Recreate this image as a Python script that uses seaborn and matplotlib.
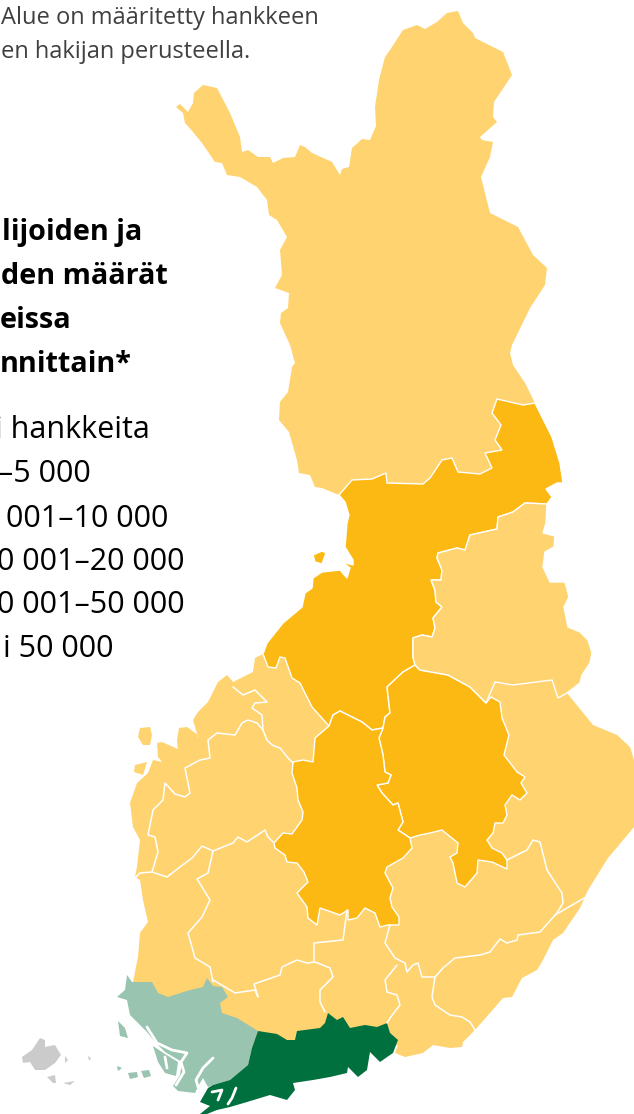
"""Kartta: hankkeet maakunnittain (pikselikoordinaatit luettu kuvasta)."""

import matplotlib
matplotlib.use("Agg")
import matplotlib.pyplot as plt
import seaborn as sns

# colours per class
LIGHT, ORANGE, PALE_GREEN, DARK_GREEN, GREY = "#FED370", "#FDB913", "#99C4B0", "#00703F", "#CBCBCB"

note_lines = ["Alue on määritetty hankkeen", "en hakijan perusteella."]
note_x = [1, 1]
note_y = [24, 58]
title_lines = ["lijoiden ja", "den määrät", "eissa", "nnittain*"]
title_x = [2, 1, 0, 0]
title_y = [240, 284, 328, 372]
legend_lines = ["i hankkeita", "–5 000", "001–10 000", "0 001–20 000", "0 001–50 000", "i 50 000"]
legend_x = [-5, -2, 6, -3, -3, 3]
legend_y = [438, 482, 527, 570, 613, 657]

lappi = [(176,107),(180,104),(188,112),(193,103),(194,93),(203,85),(217,88),(230,113),(240,137),(242,152),
    (248,150),(258,157),(270,157),(273,163),(283,158),(295,157),(300,145),(305,147),(312,153),(332,162),
    (340,175),(342,169),(349,167),(352,148),(362,139),(370,140),(376,126),(375,107),(379,80),(385,57),
    (390,50),(403,30),(417,25),(425,29),(437,22),(447,13),(458,11),(463,23),(473,33),(475,38),(503,52),
    (512,75),(494,102),(493,117),(497,122),(480,137),(482,140),(493,142),(490,157),(481,177),(490,213),
    (518,227),(533,255),(547,268),(545,285),(530,308),(512,345),(510,353),(513,365),(525,383),(535,403),
    (523,405),(497,399),(492,413),(501,425),(495,440),(502,450),(485,453),(492,468),(480,474),(458,472),
    (452,458),(442,460),(430,478),(423,484),(387,483),(386,473),(372,479),(352,480),(339,495),(322,488),
    (315,487),(310,475),(299,473),(297,460),(289,432),(279,420),(280,402),(288,392),(292,367),(295,363),
    (290,345),(280,323),(281,313),(288,308),(289,293),(275,288),(282,275),(280,250),(287,237),(277,220),
    (269,215),(267,200),(257,187),(240,177),(227,175),(222,163),(215,162),(202,143),(193,132),(185,123),(183,113)]

pohjois = [(535,403),(552,437),(560,463),(563,483),(557,483),(546,489),(552,497),(547,504),(525,503),(513,512),
    (498,517),(497,529),(470,535),(465,550),(457,548),(438,553),(437,558),(442,570),(441,580),(431,580),
    (435,590),(436,602),(442,607),(433,618),(435,628),(432,637),(422,635),(413,638),(413,657),(415,665),
    (403,672),(387,687),(390,713),(385,717),(383,728),(372,730),(362,722),(340,711),(333,715),(329,726),
    (312,707),(300,683),(292,678),(285,658),(280,657),(276,668),(268,667),(263,654),(267,643),(283,623),
    (302,607),(305,593),(312,588),(313,578),(322,572),(340,570),(347,578),(350,568),(342,562),(353,565),
    (353,560),(345,547),(347,523),(349,515),(345,502),(339,495),(352,480),(372,479),(386,473),(387,483),
    (423,484),(430,478),(442,460),(452,458),(458,472),(480,474),(492,468),(485,453),(502,450),(495,440),
    (501,425),(492,413),(497,399),(523,405)]
saari = [(313,555),(322,551),(326,553),(322,564),(315,562)]

kainuu = [(547,504),(546,523),(543,533),(555,536),(554,547),(545,552),(543,567),(550,582),(565,582),(569,597),
    (564,607),(568,627),(580,632),(588,640),(592,653),(590,663),(582,675),(580,683),(567,693),(558,698),
    (552,680),(513,685),(495,682),(486,703),(470,687),(448,675),(420,670),(415,665),(413,657),(413,638),
    (422,635),(432,637),(435,628),(433,618),(442,607),(436,602),(435,590),(431,580),(441,580),(442,570),
    (437,558),(438,553),(457,548),(465,550),(470,535),(497,529),(498,517),(513,512),(525,503)]

etela = [(575,672),(567,693),(593,725),(617,735),(630,747),(634,760),(634,827),(608,858),(588,890),(580,908),(563,933),
    (553,940),(543,960),(537,970),(522,978),(512,997),(503,998),(475,1030),(463,1042),(462,1047),(450,1048),
    (433,1045),(423,1053),(405,1057),(395,1053),(398,1045),(300,1060),(230,1050),(200,1020),(133,982),
    (138,957),(140,933),(148,922),(143,900),(140,880),(135,877),(137,867),(140,840),(133,827),(130,803),
    (137,783),(148,773),(153,760),(162,762),(158,757),(157,743),(162,742),(180,750),(182,743),(198,737),
    (193,720),(198,712),(208,702),(218,682),(227,675),(233,682),(253,672),(255,658),(263,654),(400,640)]
saaret_lansi = [[(140,728),(150,727),(152,735),(150,745),(143,745),(138,737)],
    [(179,728),(187,727),(198,735),(195,742),(184,745),(178,752),(177,740)],
    [(135,765),(147,762),(143,775),(134,772)]]

savo = [(415,665),(420,670),(448,675),(470,687),(486,703),(491,697),(500,702),(502,718),(509,735),(504,755),
    (517,772),(525,777),(521,783),(527,793),(520,800),(512,795),(505,805),(507,815),(503,823),(495,823),
    (493,833),(487,840),(492,848),(502,853),(507,860),(507,869),(492,862),(478,860),(477,873),(465,887),
    (457,883),(453,863),(450,857),(457,853),(458,843),(442,830),(430,833),(420,835),(410,838),(398,830),
    (403,822),(398,803),(393,805),(382,793),(377,785),(388,783),(391,775),(385,772),(383,755),(379,738),
    (383,728),(385,717),(390,713),(387,687),(403,672)]

keski = [(329,726),(333,715),(340,711),(362,722),(372,730),(383,728),(379,738),(383,755),(385,772),(391,775),
    (388,783),(377,785),(382,793),(393,805),(398,803),(403,822),(398,830),(410,838),(412,848),(403,858),
    (387,867),(385,873),(393,888),(390,898),(392,907),(399,917),(399,925),(388,925),(380,927),(375,913),
    (365,908),(357,918),(348,920),(348,910),(340,915),(320,908),(317,925),(308,918),(307,907),(297,893),
    (308,882),(304,872),(297,863),(287,862),(285,855),(275,848),(274,843),(283,833),(292,834),(302,820),
    (303,812),(298,800),(297,788),(292,773),(293,762),(303,760),(313,762),(315,738)]

varsinais = [(127,975),(132,982),(143,982),(152,982),(158,993),(168,997),(190,990),(203,987),(207,978),(213,986),
    (222,987),(228,997),(220,1003),(222,1013),(237,1018),(258,1031),(252,1048),(248,1065),(230,1080),(213,1085),
    (208,1087),(203,1078),(200,1083),(195,1093),(178,1091),(173,1086),(180,1075),(182,1062),(165,1052),
    (155,1042),(147,1032),(130,1015),(127,1000),(117,997),(125,990)]
varsinais_saaret = [[(118,1021),(125,1028),(128,1038),(120,1036)], [(128,1073),(137,1072),(138,1077),(130,1079)],
    [(141,1071),(149,1070),(151,1076),(144,1078)], [(117,1066),(122,1068),(118,1071)],
    [(153,1046),(165,1054),(178,1062),(176,1076),(165,1073),(158,1062)]]
aukot = [[(147,1027),(157,1043),(172,1050),(187,1053),(181,1062),(184,1072),(176,1085)],
    [(213,1058),(203,1068),(196,1080),(199,1090)], [(165,1057),(167,1068)]]

uusimaa = [(258,1031),(277,1034),(287,1040),(295,1040),(297,1031),(320,1028),(325,1023),(328,1013),(337,1020),
    (343,1017),(350,1028),(365,1025),(377,1027),(387,1023),(390,1033),(398,1040),(393,1053),(380,1062),
    (370,1052),(367,1070),(358,1077),(348,1067),(347,1073),(330,1077),(313,1080),(293,1083),(295,1090),
    (287,1100),(270,1095),(247,1102),(230,1107),(217,1110),(207,1114),(200,1114),(210,1106),(200,1102),
    (208,1088),(213,1085),(230,1080),(248,1065),(252,1048)]
uusimaa_aukot = [[(236,1088),(232,1098),(228,1104)], [(212,1092),(222,1090),(218,1100)]]

ahvenanmaa = [[(22,1057),(32,1050),(40,1038),(45,1040),(45,1047),(55,1045),(61,1055),(55,1063),(45,1070),
    (35,1070),(30,1062),(23,1063)], [(47,1077),(55,1075),(56,1083),(53,1083)], [(65,1056),(68,1060),(65,1063)],
    [(63,1083),(75,1081),(70,1085)], [(88,1056),(91,1058),(89,1061)]]

# sisarajat
rajat = [
    [(233,687),(243,695),(255,690),(267,702),(255,703),(252,708),(262,715),(263,730),(267,740),(272,745),(280,748),(288,758),(293,763)],
    [(263,730),(257,723),(248,720),(242,723),(235,735),(217,733),(208,740),(210,758),(200,760),(185,768),(190,793),
     (185,797),(175,794),(165,783),(163,800),(153,810),(148,835),(155,837),(158,852),(152,872)],
    [(135,878),(140,873),(152,872),(167,877),(180,867),(192,858),(202,846),(213,851),(233,843),(238,837),(247,842),(265,830),(268,837),(273,842)],
    [(213,851),(208,873),(197,879),(210,900),(202,917),(188,933),(195,958),(210,967),(213,982)],
    [(213,980),(225,987),(235,993),(255,990),(258,997),(254,984),(280,975),(282,967),(297,960),(307,963),(315,962),
     (330,968),(333,977),(320,990),(320,1002),(325,1012)],
    [(314,962),(314,943),(343,940),(347,910)],
    [(390,925),(385,943),(395,958),(405,963),(407,972),(413,965),(418,963),(422,977),(435,977),(443,968),(455,958),
     (480,955),(490,952),(500,939),(507,943),(517,940),(518,935),(540,932),(557,913),(563,903),(562,893),(558,887),
     (547,870),(540,842),(533,840),(527,850),(513,857),(507,860)],
    [(555,915),(586,897)],
    [(397,965),(385,980),(387,992),(397,995),(400,1005),(390,1018),(387,1023)],
    [(435,977),(432,997),(435,1005),(450,1015),(462,1017),(470,1022),(475,1030)],
]

sns.set_theme(style="white")
plt.rcParams["font.family"] = ["Open Sans", "DejaVu Sans"]

fig, ax = plt.subplots(figsize=(6.34, 11.14), dpi=100)
fig.subplots_adjust(0, 0, 1, 1)


def fill(points, color, edge="none", lw=0.0):
    xs, ys = zip(*points)
    ax.fill(xs, ys, color=color, ec=edge, lw=lw, zorder=2)


def line(points, lw=1.1):
    xs, ys = zip(*points)
    sns.lineplot(x=list(xs), y=list(ys), sort=False, estimator=None, color="white",
                 lw=lw, ax=ax, zorder=4, legend=False)


for shape in [lappi, etela, kainuu] + saaret_lansi:
    fill(shape, LIGHT)
for shape in [pohjois, saari, savo, keski]:
    fill(shape, ORANGE, edge="white", lw=1.0)
fill(kainuu, LIGHT, edge="white", lw=1.0)
fill(varsinais, PALE_GREEN)
for shape in varsinais_saaret:
    fill(shape, PALE_GREEN)
fill(uusimaa, DARK_GREEN)
for shape in ahvenanmaa:
    fill(shape, GREY)
for border in rajat:
    line(border)
for gap in aukot + uusimaa_aukot:
    line(gap, lw=2.0)

for txt, x, y in zip(note_lines, note_x, note_y):
    ax.text(x, y, txt, fontsize=17, color="#404040", va="baseline")
for txt, x, y in zip(title_lines, title_x, title_y):
    ax.text(x, y, txt, fontsize=20.7, fontweight="bold", color="black", va="baseline")
for txt, x, y in zip(legend_lines, legend_x, legend_y):
    ax.text(x, y, txt, fontsize=22, color="black", va="baseline")

ax.set_xlim(0, 634)
ax.set_ylim(1114, 0)
ax.axis("off")
fig.savefig("out.png", dpi=100)
